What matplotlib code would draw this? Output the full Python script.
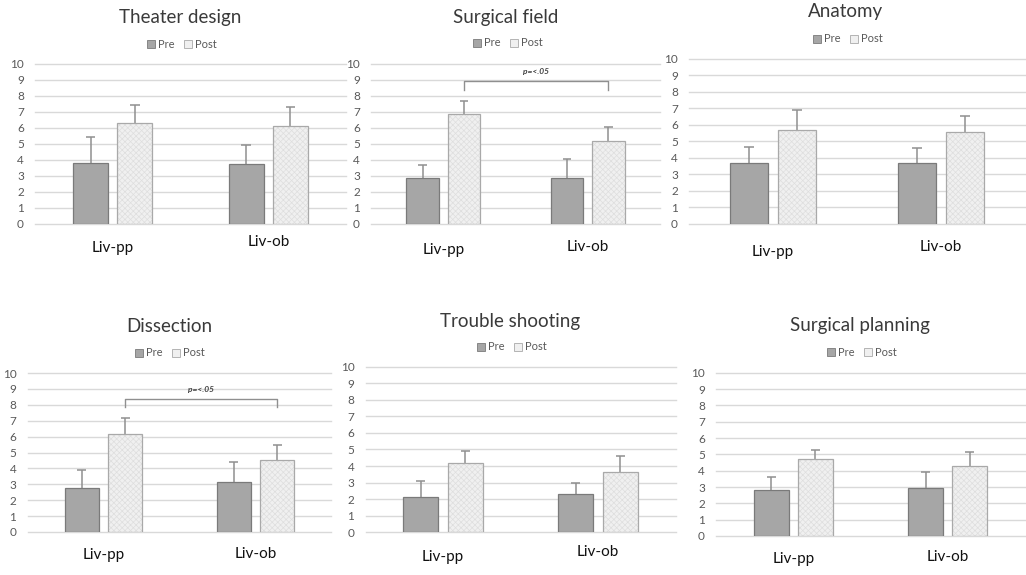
import numpy as np
import matplotlib
matplotlib.use("Agg")
import matplotlib.pyplot as plt
from matplotlib.patches import Patch

plt.rcParams['font.family'] = ['Lato', 'DejaVu Sans']
plt.rcParams['hatch.linewidth'] = 0.5

# data
titles = ["Theater design", "Surgical field", "Anatomy",
          "Dissection", "Trouble shooting", "Surgical planning"]
categories = ["Liv-pp", "Liv-ob"]
pre_mean = [[3.83, 3.75], [2.85, 2.85], [3.67, 3.67],
            [2.79, 3.13], [2.15, 2.31], [2.82, 2.96]]
pre_err = [[1.59, 1.21], [0.86, 1.23], [1.01, 0.95],
           [1.11, 1.27], [0.95, 0.67], [0.81, 0.94]]
post_mean = [[6.29, 6.15], [6.85, 5.19], [5.69, 5.58],
             [6.14, 4.53], [4.17, 3.66], [4.69, 4.29]]
post_err = [[1.13, 1.16], [0.84, 0.85], [1.22, 0.97],
            [1.05, 0.94], [0.72, 0.93], [0.58, 0.83]]
# significance bracket (panel index, bracket level, drop level, label)
sig = {1: (8.95, 8.4, "p=<.05"), 3: (8.36, 7.88, "p=<.05")}
yticks = list(range(0, 11))

W, H = 1026, 575

# pixel layout of each panel: x_left, x_right, y_of_10, y_of_0
layout = [(35, 346, 64, 224), (371, 660, 64, 224), (689, 1025, 58.7, 224),
          (27.5, 331.5, 373, 532), (365.5, 675.5, 366.7, 532.3),
          (716, 1025, 372.7, 536)]
# title / legend centres in pixels
title_pos = [(180, 18), (506, 18), (846, 12), (169, 327), (510, 321), (860, 325)]
legend_pos = [(182, 44), (508, 43), (848, 39), (170, 353), (512, 347), (862, 352)]
label_dy = [(24, 18), (26, 23), (28, 23), (23, 22), (25, 20), (23, 21)]

pre_color = "#a6a6a6"
pre_edge = "#7a7a7a"
post_color = "#f0f0f0"
post_hatch = "#dedede"
post_edge = "#a9a9a9"
err_color = "#8f8f8f"

fig = plt.figure(figsize=(W / 100, H / 100), dpi=100)

bw = 0.225
off = 0.143
x = np.arange(len(categories))

for i, t in enumerate(titles):
    x0, x1, y10, y0 = layout[i]
    ax = fig.add_axes([x0 / W, 1 - y0 / H, (x1 - x0) / W, (y0 - y10) / H])
    ax.set_xlim(-0.5, 1.5)
    ax.set_ylim(0, 10)
    ax.set_yticks(yticks)
    ax.tick_params(axis='y', length=0, labelsize=8.5, labelcolor="#595959", pad=8)
    ax.set_xticks([])
    for s in ax.spines.values():
        s.set_visible(False)
    ax.set_facecolor("none")
    for v in yticks:
        ax.axhline(v, color="#d9d9d9", lw=1, zorder=0, clip_on=False)

    pm, pe = np.array(pre_mean[i]), np.array(pre_err[i])
    qm, qe = np.array(post_mean[i]), np.array(post_err[i])

    # error bars (upper half only)
    cw = 0.03
    for xs, m, e in [(x - off, pm, pe), (x + off, qm, qe)]:
        ax.vlines(xs, m, m + e, color=err_color, lw=1.1, zorder=1)
        ax.hlines(m + e, xs - cw, xs + cw, color=err_color, lw=1.1, zorder=1)

    ax.bar(x - off, pm, bw, color=pre_color, edgecolor=pre_edge, lw=0.9, zorder=2)
    ax.bar(x + off, qm, bw, color=post_color, edgecolor=post_hatch, lw=0,
           hatch="xxxxxx", zorder=2)
    ax.bar(x + off, qm, bw, fill=False, edgecolor=post_edge, lw=0.9, zorder=3)

    for j, c in enumerate(categories):
        ax.annotate(c, xy=(x[j], 0), xycoords=('data', 'axes fraction'),
                    xytext=(0, -label_dy[i][j]), textcoords='offset pixels',
                    ha='center', va='center', fontsize=11, color="#111111")

    if i in sig:
        lev, drop, txt = sig[i]
        ax.plot([x[0] + off, x[0] + off, x[1] + off, x[1] + off],
                [drop, lev, lev, drop], color=err_color, lw=1, zorder=1)
        ax.text((x[0] + x[1]) / 2 + off, lev + 0.6, txt, ha='center',
                va='center', fontsize=6, style='italic', fontweight='bold',
                color="#404040")

    tx, ty = title_pos[i]
    fig.text(tx / W, 1 - ty / H, t, ha='center', va='center', fontsize=13.5,
             color="#3a3a3a")

    lx, ly = legend_pos[i]
    handles = [Patch(facecolor=pre_color, edgecolor=pre_edge, lw=0.6),
               Patch(facecolor=post_color, edgecolor=post_edge, lw=0.6)]
    ax.legend(handles, ["Pre", "Post"], loc='center', ncol=2,
              bbox_to_anchor=(lx / W, 1 - ly / H), bbox_transform=fig.transFigure,
              frameon=False, fontsize=8, handlelength=0.7, handleheight=0.7,
              handletextpad=0.3, columnspacing=0.8, labelcolor="#595959")

fig.savefig("out.png", dpi=100, facecolor="white")
